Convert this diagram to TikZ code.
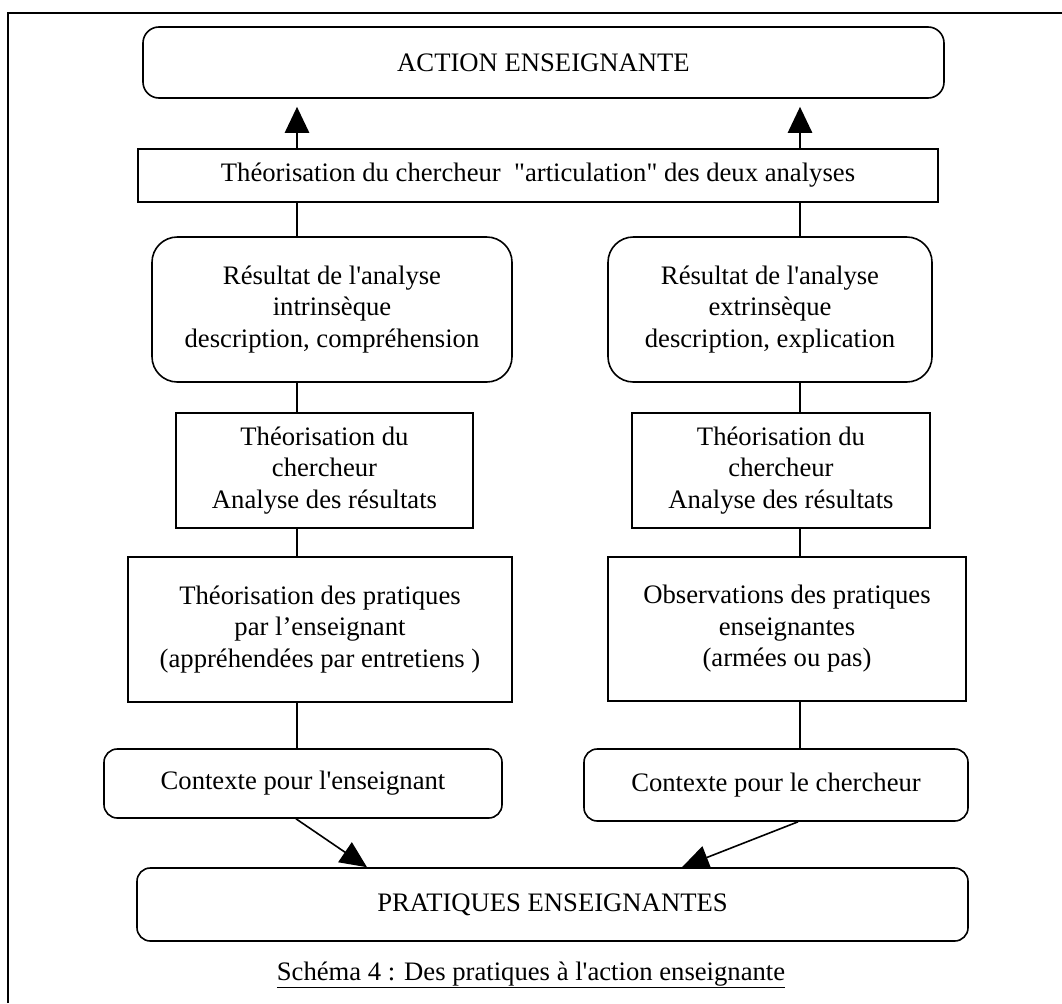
\documentclass[tikz,border=0pt]{standalone}
\usepackage{fontspec}
\setmainfont{Liberation Serif}
\usetikzlibrary{arrows.meta}

\tikzset{
  lbl/.style={font=\fontsize{20}{23.6}\selectfont, align=center, inner sep=0pt},
  sqbox/.style={lbl, draw, line width=1.2pt},
  rbox/.style={lbl, draw, line width=1.2pt, rounded corners=#1},
  link/.style={line width=2pt},
  uplink/.style={line width=2pt, -{Triangle[length=19.5pt,width=18pt]}, shorten >=6pt},
  diaglink/.style={line width=1.2pt, -{Triangle[length=20pt,width=18pt]}},
}

\begin{document}
\begin{tikzpicture}[x=0.75pt, y=-0.75pt]
  \useasboundingbox (0,0) rectangle (1062,1003);

  % outer frame (left and top edges)
  \draw[line width=1.5pt] (8,1003) -- (8,13) -- (1062,13);

  % column positions of the vertical links
  \coordinate (colL) at (297,0);
  \coordinate (colR) at (800,0);
  \coordinate (srcL) at (296,0);
  \coordinate (tipL) at (367,0);
  \coordinate (srcR) at (798,0);
  \coordinate (tipR) at (682,0);

  % boxes
  \node[rbox=12pt, minimum width=600.75pt, minimum height=53.25pt] (act) at (543.5,62.5) {ACTION ENSEIGNANTE};
  \node[sqbox, minimum width=600pt, minimum height=39.75pt] (theo) at (538,175.5)
    {Théorisation du chercheur \ \textquotedbl articulation\textquotedbl{} des deux analyses};

  \node[rbox=19pt, minimum width=270pt, minimum height=108.75pt] (resL) at (332,309.5)
    {Résultat de l\textquotesingle analyse\\intrinsèque\\description, compréhension};
  \node[rbox=19pt, minimum width=243pt, minimum height=108.75pt] (resR) at (770,309.5)
    {Résultat de l\textquotesingle analyse\\extrinsèque\\description, explication};

  \node[sqbox, minimum width=222.75pt, minimum height=86.25pt] (chL) at (324.5,470.5)
    {Théorisation du\\chercheur\\Analyse des résultats};
  \node[sqbox, minimum width=223.5pt, minimum height=86.25pt] (chR) at (781,470.5)
    {Théorisation du\\chercheur\\Analyse des résultats};

  \node[sqbox, minimum width=288pt, minimum height=108.75pt] (prL) at (320,629.5)
    {Théorisation des pratiques\\par l’enseignant\\(appréhendées par entretiens )};
  \node[sqbox, minimum width=268.5pt, minimum height=108pt] (obsR) at (787,629)
    {Observations des pratiques\\enseignantes\\(armées ou pas)};

  \node[rbox=10pt, minimum width=298.5pt, minimum height=51.75pt] (ctxL) at (303,783.5)
    {Contexte pour l\textquotesingle enseignant};
  \node[rbox=10pt, minimum width=288pt, minimum height=54pt] (ctxR) at (776,785)
    {Contexte pour le chercheur};

  \node[rbox=10pt, minimum width=623.25pt, minimum height=54.75pt] (prat) at (552.5,904.5)
    {PRATIQUES ENSEIGNANTES};

  \node[lbl, anchor=base] (cap) at (531,980)
    {\underline{Schéma 4 : Des pratiques à l\textquotesingle action enseignante}};

  % links
  \draw[uplink] (theo.north -| colL) -- (act.south -| colL);
  \draw[uplink] (theo.north -| colR) -- (act.south -| colR);

  \draw[link] (theo.south -| colL) -- (resL.north -| colL);
  \draw[link] (resL.south -| colL) -- (chL.north -| colL);
  \draw[link] (chL.south -| colL) -- (prL.north -| colL);
  \draw[link] (prL.south -| colL) -- (ctxL.north -| colL);

  \draw[link] (theo.south -| colR) -- (resR.north -| colR);
  \draw[link] (resR.south -| colR) -- (chR.north -| colR);
  \draw[link] (chR.south -| colR) -- (obsR.north -| colR);
  \draw[link] (obsR.south -| colR) -- (ctxR.north -| colR);

  \draw[diaglink] (ctxL.south -| srcL) -- (prat.north -| tipL);
  \draw[diaglink] (ctxR.south -| srcR) -- (prat.north -| tipR);
\end{tikzpicture}
\end{document}
